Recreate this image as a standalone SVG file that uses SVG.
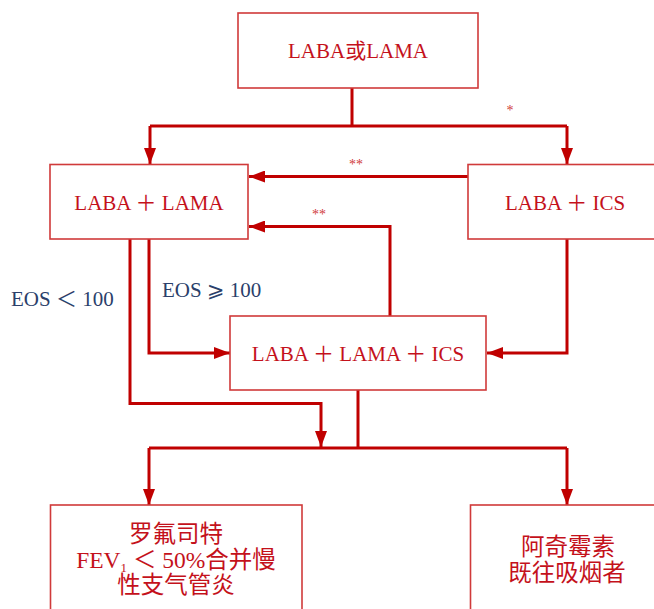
<svg xmlns="http://www.w3.org/2000/svg" width="654" height="609" viewBox="0 0 654 609">
<style>
.box{fill:#fff;stroke:#d03a3a;stroke-width:1.6}
.t{font-family:"Liberation Serif","Noto Sans CJK SC",serif;font-size:21px;fill:#c4111b;text-anchor:middle}
.tb{font-size:23.5px}
.lbl{font-family:"Liberation Serif","DejaVu Sans","Noto Sans CJK SC",serif;font-size:21px;fill:#2b3f6b}
.star{font-family:"Liberation Serif",serif;font-size:14px;fill:#d03a3a;text-anchor:middle}
.c{fill:none;stroke:#c00000;stroke-width:3}
</style>
<defs>
<marker id="ah" viewBox="0 0 16 12" refX="16" refY="6" markerWidth="16" markerHeight="12" markerUnits="userSpaceOnUse" orient="auto">
<path d="M0,0 L16,6 L0,12 z" fill="#c00000"/>
</marker>
</defs>
<rect width="654" height="609" fill="#fff"/>
<g id="connectors">
<path class="c" d="M352,88 V126 M150,126 H567"/>
<path class="c" d="M150,126 V164" marker-end="url(#ah)"/>
<path class="c" d="M567,126 V164" marker-end="url(#ah)"/>
<path class="c" d="M468,176.5 H249" marker-end="url(#ah)"/>
<path class="c" d="M390,316 V226.5 H249" marker-end="url(#ah)"/>
<path class="c" d="M149,239 V353 H230" marker-end="url(#ah)"/>
<path class="c" d="M567,239 V353 H487" marker-end="url(#ah)"/>
<path class="c" d="M130,239 V403.5 H321 V447" marker-end="url(#ah)"/>
<path class="c" d="M358,390 V448 M149,448 H567"/>
<path class="c" d="M149,448 V505" marker-end="url(#ah)"/>
<path class="c" d="M567,448 V505" marker-end="url(#ah)"/>
<text class="star" x="510" y="115">*</text>
<text class="star" x="356" y="169">**</text>
<text class="star" x="319" y="219">**</text>
<text class="lbl" x="11" y="306">EOS ＜ 100</text>
<text class="lbl" x="162" y="297">EOS ⩾ 100</text>
</g>
<g id="n1">
<rect class="box" x="238" y="13" width="240" height="75"/>
<text class="t" x="358" y="58">LABA或LAMA</text>
</g>
<g id="n2">
<rect class="box" x="50" y="164.5" width="198" height="74.5"/>
<text class="t" x="149" y="210">LABA ＋ LAMA</text>
</g>
<g id="n3">
<rect class="box" x="468" y="164.5" width="200" height="74.5"/>
<text class="t" x="565" y="210">LABA ＋ ICS</text>
</g>
<g id="n4">
<rect class="box" x="230" y="316" width="256" height="74"/>
<text class="t" x="358" y="361">LABA ＋ LAMA ＋ ICS</text>
</g>
<g id="n5">
<rect class="box" x="50.5" y="505" width="251.5" height="120"/>
<text class="t tb" x="176" y="542">罗氟司特</text>
<text class="t tb" x="176" y="568">FEV<tspan font-size="13" dy="4">1</tspan><tspan dy="-4"> ＜ 50%合并慢</tspan></text>
<text class="t tb" x="176" y="593">性支气管炎</text>
</g>
<g id="n6">
<rect class="box" x="470.5" y="505" width="200" height="120"/>
<text class="t tb" x="568" y="555">阿奇霉素</text>
<text class="t tb" x="567" y="581">既往吸烟者</text>
</g>
</svg>
